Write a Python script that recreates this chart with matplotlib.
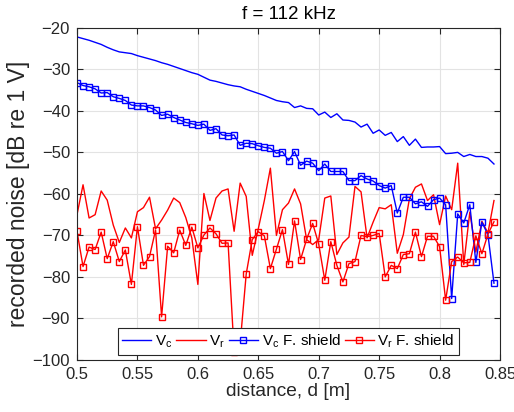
import numpy as np
import matplotlib
matplotlib.use("Agg")
import matplotlib.pyplot as plt

plt.rcParams['font.family'] = ['Liberation Sans', 'DejaVu Sans']
plt.rcParams['mathtext.fontset'] = 'custom'
plt.rcParams['mathtext.rm'] = 'Liberation Sans'
plt.rcParams['mathtext.it'] = 'Liberation Sans'

# distance steps of 5 mm
distance = np.round(0.5 + 0.005 * np.arange(70), 3)

vc = [-22.2, -22.6, -23.0, -23.5, -24.0, -24.7, -25.3, -25.8, -26.0, -26.2,
      -26.7, -27.1, -27.5, -27.9, -28.4, -28.8, -29.3, -29.8, -30.3, -30.8,
      -31.2, -31.9, -32.6, -32.9, -33.3, -33.7, -34.0, -34.2, -34.8, -35.3,
      -35.8, -36.3, -36.9, -37.5, -37.8, -38.0, -39.2, -38.8, -39.4, -39.5,
      -41.0, -40.3, -41.6, -40.7, -42.2, -42.3, -42.7, -43.9, -43.2, -45.4,
      -44.6, -45.9, -45.2, -47.4, -46.2, -48.3, -46.8, -48.8, -48.7, -48.7,
      -48.6, -50.3, -50.2, -50.0, -51.0, -50.5, -51.0, -51.0, -51.4, -52.8]

vr = [-65.0, -57.8, -65.8, -65.0, -59.3, -61.5, -67.5, -71.7, -68.2, -70.6,
      -64.3, -63.3, -60.8, -68.4, -66.3, -63.9, -61.0, -62.1, -65.7, -70.6,
      -81.8, -59.9, -66.4, -61.0, -59.3, -58.8, -69.0, -57.4, -60.6, -74.8,
      -68.4, -61.6, -53.8, -70.0, -63.8, -62.2, -58.8, -62.4, -71.0, -72.2,
      -71.0, -61.0, -60.5, -74.6, -71.8, -70.4, -58.2, -59.5, -70.6, -66.8,
      -63.3, -63.6, -62.6, -74.3, -69.8, -61.2, -58.4, -57.6, -61.6, -60.2,
      -67.4, -60.5, -63.8, -52.6, -77.0, -64.4, -74.0, -66.6, -69.4, -61.6]

vc_shield = [-33.2, -33.9, -34.2, -34.7, -35.7, -35.6, -36.6, -37.0, -37.5, -38.6,
             -38.8, -38.8, -39.2, -39.8, -41.1, -40.8, -41.6, -42.2, -42.8, -43.1,
             -43.5, -43.2, -44.7, -44.3, -45.8, -46.0, -45.8, -48.3, -47.8, -47.9,
             -48.4, -48.8, -49.0, -50.2, -49.8, -52.0, -49.8, -53.1, -52.1, -52.6,
             -54.4, -52.8, -54.6, -54.6, -54.6, -56.8, -56.8, -55.6, -56.4, -56.9,
             -58.0, -58.6, -58.0, -64.6, -60.8, -60.8, -62.4, -61.9, -63.0, -61.4,
             -61.0, -62.6, -85.2, -64.8, -67.0, -62.6, -76.5, -66.8, -69.8, -81.5]

vr_shield = [-69.0, -77.5, -72.8, -73.4, -69.2, -75.6, -71.5, -76.3, -73.5, -81.8,
             -67.9, -77.2, -75.1, -68.7, -89.6, -72.6, -74.2, -68.7, -72.4, -68.0,
             -73.0, -69.9, -68.2, -69.6, -71.9, -71.8, -98.0, -96.0, -79.3, -71.0,
             -69.1, -70.1, -78.0, -73.3, -68.6, -77.0, -66.5, -75.8, -70.9, -67.1,
             -72.1, -80.8, -71.5, -77.2, -81.2, -76.8, -76.3, -70.0, -70.3, -70.0,
             -69.5, -80.0, -77.2, -78.0, -74.6, -74.4, -69.2, -75.1, -70.2, -70.2,
             -72.7, -85.6, -76.3, -75.2, -76.6, -76.5, -70.1, -74.4, -69.7, -66.7]

x_ticks = [0.5, 0.55, 0.6, 0.65, 0.7, 0.75, 0.8, 0.85]
x_ticklabels = ['0.5', '0.55', '0.6', '0.65', '0.7', '0.75', '0.8', '0.85']
y_ticks = [-100, -90, -80, -70, -60, -50, -40, -30, -20]

fig = plt.figure(figsize=(5.14, 4.12), dpi=100)
ax = fig.add_axes([0.1498, 0.1262, 0.823, 0.8063])

ax.plot(distance, vc, color='#0000ff', lw=1.0, label='V$_{\\mathrm{c}}$')
ax.plot(distance, vr, color='#ff0000', lw=1.0, label='V$_{\\mathrm{r}}$')
ax.plot(distance, vc_shield, color='#0000ff', lw=1.0, marker='s', ms=4,
        mfc='none', mew=1.0, label='V$_{\\mathrm{c}}$ F. shield')
ax.plot(distance, vr_shield, color='#ff0000', lw=1.0, marker='s', ms=4,
        mfc='none', mew=1.0, label='V$_{\\mathrm{r}}$ F. shield')

ax.set_xlim(0.5, 0.85)
ax.set_ylim(-100, -20)
ax.set_xticks(x_ticks)
ax.set_xticklabels(x_ticklabels)
ax.set_yticks(y_ticks)
ax.grid(True, color='#e3e3e3', lw=0.8)
ax.set_axisbelow(True)
ax.tick_params(direction='in', length=4, width=0.8, top=True, right=True,
               labelsize=12, colors='#262626', labelcolor='#262626', pad=5)
for s in ax.spines.values():
    s.set_color('#262626')
    s.set_linewidth(0.8)

ax.set_xlabel('distance, d [m]', fontsize=13.8, color='#262626', labelpad=1)
ax.set_ylabel('recorded noise [dB re 1 V]', fontsize=16.5, color='#262626', labelpad=2)
ax.set_title('f = 112 kHz', fontsize=13.5, color='black', pad=6)

leg = ax.legend(loc='lower center', ncol=4, fontsize=11, frameon=True,
                fancybox=False, edgecolor='#262626', framealpha=1,
                handlelength=1.9, handletextpad=0.25, columnspacing=0.25,
                borderpad=0.3, borderaxespad=0.35, bbox_to_anchor=(0.5, 0.0))
leg.get_frame().set_linewidth(0.8)

fig.savefig('out.png', dpi=100)
